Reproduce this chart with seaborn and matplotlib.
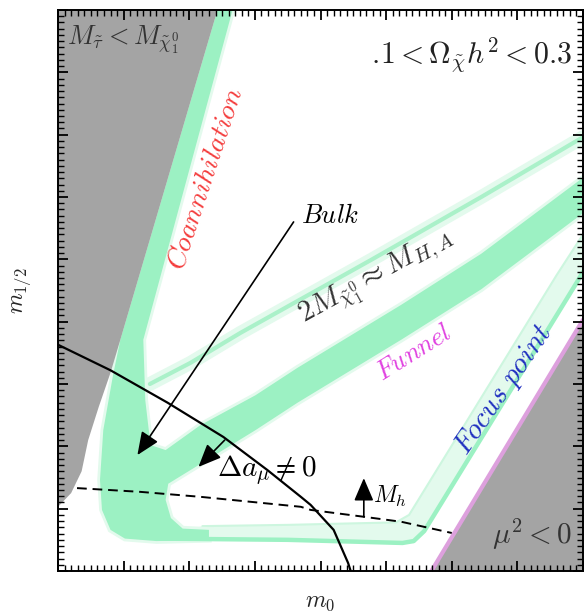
import matplotlib
matplotlib.use("Agg")
import matplotlib.pyplot as plt
from matplotlib.ticker import MultipleLocator
import seaborn as sns

sns.set_theme(style="ticks")
plt.rcParams["font.family"] = ["DejaVu Serif"]
plt.rcParams["mathtext.fontset"] = "cm"
plt.rcParams["axes.axisbelow"] = False

# ---- region boundaries in the (m0, m1/2) plane (axis units) ----
# stau LSP excluded wedge
stau_m0 = [0.0, 2.43, 0.95, 0.80, 0.62, 0.46, 0.36, 0.20, 0.0]
stau_m12 = [9.0, 9.0, 3.71, 3.18, 2.63, 2.10, 1.60, 1.25, 1.03]

# no radiative EWSB (mu^2 < 0)
mu_m0 = [5.69, 8.0, 8.0]
mu_m12 = [0.0, 4.03, 0.0]

# coannihilation strip, bulk and the thick A/H funnel branch
band_m0 = [2.43, 0.95, 0.84, 0.69, 0.64, 0.67, 0.80, 1.02, 1.50, 2.30, 2.30,
           1.90, 1.72, 1.64, 1.68, 2.02, 3.01, 3.65, 5.23, 6.45, 8.00, 8.00,
           6.45, 5.23, 3.65, 3.01, 2.17, 1.64, 1.41, 1.33, 1.30, 2.66]
band_m12 = [9.00, 3.71, 3.15, 2.26, 1.46, 0.98, 0.66, 0.52, 0.48, 0.50, 0.66,
            0.68, 0.85, 1.14, 1.40, 1.62, 2.26, 2.70, 3.71, 4.52, 5.74, 6.31,
            5.09, 4.27, 3.26, 2.82, 2.34, 1.94, 2.02, 2.74, 3.71, 9.00]

# upper (thin) funnel branch
thin_m0 = [1.40, 2.02, 2.78, 4.77, 6.45, 8.00]
thin_m12 = [3.00, 3.34, 3.82, 4.99, 6.00, 6.96]

# low-m1/2 edge running into the focus-point strip
edge_m0 = [1.50, 3.50, 5.25, 5.42, 5.58, 7.90, 8.00]
edge_m12 = [0.52, 0.50, 0.45, 0.48, 0.64, 4.62, 4.80]
edge_in_m0 = [8.00, 7.60, 5.35, 5.15, 3.50, 2.20]
edge_in_m12 = [5.40, 4.75, 0.90, 0.78, 0.74, 0.72]

# g-2 contour and light Higgs mass bound
amu_m0 = [0.0, 0.80, 1.67, 2.52, 3.19, 3.70, 3.85, 4.20, 4.42, 4.46]
amu_m12 = [3.63, 3.22, 2.70, 2.15, 1.62, 1.19, 1.06, 0.66, 0.13, 0.0]
mh_m0 = [0.29, 1.25, 2.17, 3.70, 3.85, 4.66, 5.23, 6.00]
mh_m12 = [1.33, 1.27, 1.19, 1.03, 0.98, 0.87, 0.79, 0.61]

MINT = "#9cf1c3"
PALE = "#e3faed"
GREY = "#a4a4a4"

fig = plt.figure(figsize=(5.86, 6.13), dpi=100)
ax = fig.add_axes([58 / 586, 1 - 571 / 613, (583 - 58) / 586, (571 - 10) / 613])
ax.set_xlim(0, 8)
ax.set_ylim(0, 9)

# pale shoulder along the edge / focus-point strip
ax.fill(edge_m0 + edge_in_m0, edge_m12 + edge_in_m12, color=PALE, lw=0, zorder=1)
ax.plot(edge_in_m0, edge_in_m12, color="#cdf6df", lw=1.5, zorder=1)

# main relic-density band with a soft rim
ax.fill(band_m0, band_m12, facecolor=MINT, edgecolor=PALE, lw=4, zorder=2)
ax.fill(band_m0, band_m12, facecolor=MINT, edgecolor="none", zorder=2.1)

# thin funnel branch and lower edge
sns.lineplot(x=thin_m0, y=thin_m12, sort=False, color=PALE, lw=10, ax=ax, zorder=2)
sns.lineplot(x=thin_m0, y=thin_m12, sort=False, color="#aaf1c9", lw=3, ax=ax, zorder=2.2)
sns.lineplot(x=edge_m0, y=edge_m12, sort=False, color=MINT, lw=3.2, ax=ax, zorder=2.2)

# excluded regions
ax.fill(stau_m0, stau_m12, color=GREY, lw=0, zorder=3)
ax.fill(mu_m0, mu_m12, color=GREY, lw=0, zorder=3)
sns.lineplot(x=mu_m0[:2], y=mu_m12[:2], sort=False, color="#dda0dd", lw=3, ax=ax, zorder=3.1)

# constraint curves
sns.lineplot(x=amu_m0, y=amu_m12, sort=False, color="black", lw=1.6, ax=ax, zorder=4)
sns.lineplot(x=mh_m0, y=mh_m12, sort=False, color="black", lw=1.4, ax=ax, zorder=4,
             linestyle=(0, (5, 3)))

arrow = dict(arrowstyle="-|>,head_length=0.7,head_width=0.3", color="black",
             lw=1.2, shrinkA=0, shrinkB=0, mutation_scale=20)
ax.annotate("", xy=(1.21, 1.86), xytext=(3.59, 5.60), arrowprops=arrow, zorder=5)
ax.annotate("", xy=(2.14, 1.67), xytext=(2.54, 2.10), arrowprops=arrow, zorder=5)
ax.annotate("", xy=(4.66, 1.49), xytext=(4.66, 0.87), arrowprops=arrow, zorder=5)

# labels
ax.text(0.14, 8.44, r"$M_{\tilde\tau} < M_{\tilde\chi_1^0}$", fontsize=19,
        color="#333333", ha="left", va="baseline", zorder=6)
ax.text(7.83, 8.14, r"$.\!1 < \Omega_{\tilde\chi}h^2 < 0.3$", fontsize=21.5,
        color="#222222", ha="right", va="baseline", zorder=6)
ax.text(2.25, 6.30, r"$\mathit{Coannihilation}$", fontsize=20, color="#f43c3c",
        rotation=71.7, rotation_mode="anchor", ha="center", va="center", zorder=6)
ax.text(3.70, 5.71, r"$\mathit{Bulk}$", fontsize=19, color="black",
        ha="left", va="center", zorder=6)
ax.text(4.85, 4.70, r"$2M_{\tilde\chi_1^0} \approx M_{H,A}$", fontsize=21,
        color="#333333", rotation=28.8, rotation_mode="anchor",
        ha="center", va="center", zorder=6)
ax.text(5.43, 3.51, r"$\mathit{Funnel}$", fontsize=19, color="#e040e0",
        rotation=32, rotation_mode="anchor", ha="center", va="center", zorder=6)
ax.text(6.80, 2.90, r"$\mathit{Focus\ point}$", fontsize=21, color="#2030c0",
        rotation=55.3, rotation_mode="anchor", ha="center", va="center", zorder=6)
ax.text(7.22, 0.58, r"$\mu^2 < 0$", fontsize=21, color="#333333",
        ha="center", va="center", zorder=6)
ax.text(3.18, 1.62, r"$\Delta a_\mu \neq 0$", fontsize=21, color="black",
        ha="center", va="center", zorder=6)
ax.text(4.80, 1.19, r"$M_h$", fontsize=17, color="black",
        ha="left", va="center", zorder=6)

ax.set_xlabel(r"$m_0$", fontsize=17, labelpad=14)
ax.set_ylabel(r"$m_{1/2}$", fontsize=17, labelpad=18)

# dense inward ticks on all four sides, drawn over the shaded regions
ax.xaxis.set_major_locator(MultipleLocator(1))
ax.xaxis.set_minor_locator(MultipleLocator(0.1))
ax.yaxis.set_major_locator(MultipleLocator(1))
ax.yaxis.set_minor_locator(MultipleLocator(0.1))
for axis in (ax.xaxis, ax.yaxis):
    axis.set_tick_params(which="major", direction="in", length=7, width=1.3,
                         color="black")
    axis.set_tick_params(which="minor", direction="in", length=4, width=1.0,
                         color="black")
    axis.set_zorder(6.5)
ax.tick_params(which="both", top=True, right=True, bottom=True, left=True,
               labelbottom=False, labelleft=False)
for s in ax.spines.values():
    s.set_linewidth(1.4)
    s.set_color("black")
    s.set_zorder(7)

fig.savefig("out.png", dpi=100, facecolor="white")
